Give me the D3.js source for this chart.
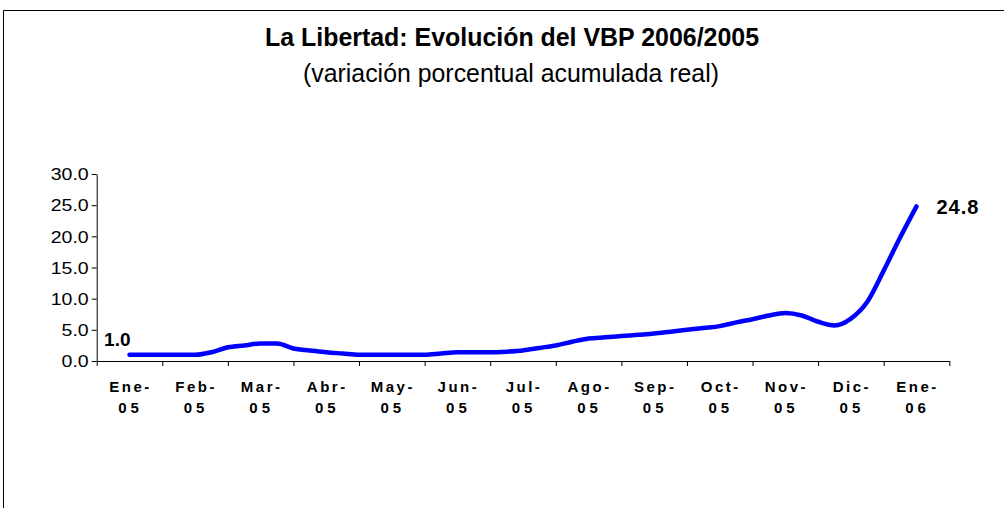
<!DOCTYPE html>
<html>
<head>
<meta charset="utf-8">
<script src="https://cdn.jsdelivr.net/npm/d3@7"></script>
<style>
  html, body { margin: 0; padding: 0; background: #fff; }
  svg { display: block; font-family: "Liberation Sans", Arial, sans-serif; }
</style>
</head>
<body>
<svg id="chart" width="1004" height="508"></svg>
<script>
// ---- data ----
const categories = ["Ene-05","Feb-05","Mar-05","Abr-05","May-05","Jun-05","Jul-05","Ago-05","Sep-05","Oct-05","Nov-05","Dic-05","Ene-06"];
// quarter-month observations, Ene-05 .. Ene-06 (49 points)
const values = [
  1.0, 1.0, 1.0, 1.0, 1.0, 1.4, 2.2, 2.5,
  2.8, 2.8, 2.0, 1.7, 1.4, 1.2, 1.0, 1.0,
  1.0, 1.0, 1.0, 1.2, 1.4, 1.4, 1.4, 1.5,
  1.7, 2.1, 2.5, 3.1, 3.6, 3.8, 4.0, 4.2,
  4.4, 4.7, 5.0, 5.3, 5.6, 6.2, 6.7, 7.3,
  7.7, 7.3, 6.3, 5.7, 6.8, 9.5, 14.5, 19.8,
  24.8
];
const yTicks = [0, 5, 10, 15, 20, 25, 30];
const titleText = "La Libertad: Evolución del VBP 2006/2005";
const subtitleText = "(variación porcentual acumulada real)";

// ---- drawing ----
const svg = d3.select("#chart");
svg.append("rect").attr("width", 1004).attr("height", 508).attr("fill", "#fff");

// frame
svg.append("path").attr("d", "M3.5,508V10.5H1004")
  .attr("fill", "none").attr("stroke", "#000").attr("stroke-width", 1);

// titles
svg.append("text").attr("x", 512).attr("y", 46).attr("text-anchor", "middle")
  .attr("font-weight", "bold").attr("font-size", 26).attr("fill", "#000")
  .attr("textLength", 494).attr("lengthAdjust", "spacingAndGlyphs").text(titleText);
svg.append("text").attr("x", 511).attr("y", 82).attr("text-anchor", "middle")
  .attr("font-size", 26).attr("fill", "#000")
  .attr("textLength", 416).attr("lengthAdjust", "spacingAndGlyphs").text(subtitleText);

const x0 = 96.7, x1 = 949.3, yTop = 174, yBot = 361;
const xBand = d3.scaleBand().domain(categories).range([x0, x1]).padding(0);
const xIdx = d3.scaleLinear().domain([0, values.length - 1])
  .range([xBand(categories[0]) + xBand.bandwidth() / 2,
          xBand(categories[categories.length - 1]) + xBand.bandwidth() / 2]);
const y = d3.scaleLinear().domain([0, 30]).range([yBot, yTop]);

// y axis
const yAxis = svg.append("g").attr("transform", `translate(${x0},0)`)
  .call(d3.axisLeft(y).tickValues(yTicks).tickFormat(d3.format(".1f")).tickSize(5).tickSizeOuter(0));
yAxis.select(".domain").attr("stroke", "#000");
yAxis.selectAll(".tick line").attr("stroke", "#000");
yAxis.selectAll(".tick text")
  .attr("font-family", "Liberation Sans, Arial, sans-serif")
  .attr("font-size", 16).attr("fill", "#000")
  .attr("x", 0).attr("dy", "0.36em")
  .attr("transform", "translate(-8,0) scale(1.22,1)");

// x axis (ticks at category boundaries)
const bounds = d3.scaleLinear().domain([0, categories.length]).range([x0, x1]);
const xAxis = svg.append("g").attr("transform", `translate(0,${yBot})`)
  .call(d3.axisBottom(bounds).tickValues(d3.range(categories.length + 1)).tickFormat("").tickSize(5).tickSizeOuter(0));
xAxis.select(".domain").attr("stroke", "#000");
xAxis.selectAll(".tick line").attr("stroke", "#000");

const lab = svg.append("g");
categories.forEach(c => {
  const parts = c.split("-");
  const cx = xBand(c) + xBand.bandwidth() / 2 + 1;
  const t = lab.append("text").attr("text-anchor", "middle")
    .attr("font-weight", "bold").attr("font-size", 15).attr("letter-spacing", "2.5px").attr("fill", "#000");
  t.append("tspan").attr("x", cx).attr("y", 392).text(parts[0] + "-");
  t.append("tspan").attr("x", cx).attr("y", 413).attr("letter-spacing", "4px").text(parts[1]);
});

// line
const line = d3.line().x((d, i) => xIdx(i)).y(d => y(d)).curve(d3.curveMonotoneX);
svg.append("path").datum(values).attr("d", line)
  .attr("fill", "none").attr("stroke", "#0000FF").attr("stroke-width", 4.5)
  .attr("stroke-linecap", "round").attr("stroke-linejoin", "round");

// data labels
const fmt = d3.format(".1f");
svg.append("text").attr("x", xIdx(0) + 1).attr("y", y(values[0]) - 9)
  .attr("text-anchor", "end").attr("font-weight", "bold").attr("font-size", 19)
  .attr("fill", "#000").text(fmt(values[0]));
const last = values.length - 1;
svg.append("text").attr("x", xIdx(last) + 20).attr("y", y(values[last]) + 8)
  .attr("text-anchor", "start").attr("font-weight", "bold").attr("font-size", 20)
  .attr("letter-spacing", "1px").attr("fill", "#000").text(fmt(values[last]));
</script>
</body>
</html>
